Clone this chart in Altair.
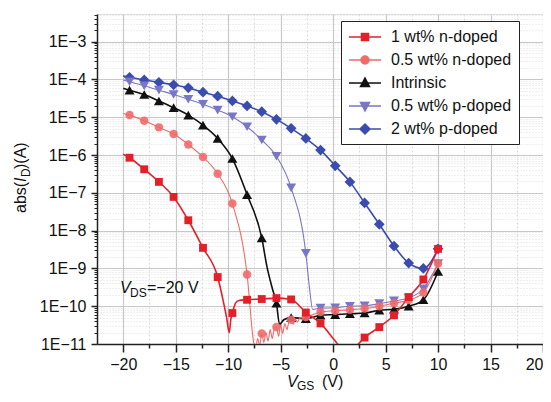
import altair as alt
import pandas as pd

# ---------------- data ----------------
SERIES = ["1 wt% n-doped", "0.5 wt% n-doped", "Intrinsic", "0.5 wt% p-doped", "2 wt% p-doped"]
COLORS = ["#e3202a", "#f06a6a", "#111111", "#7a76c6", "#3a4cae"]
LINE_W = [1.6, 1.1, 1.6, 1.1, 1.6]
SHAPES = ["square", "circle", "triangle-up", "triangle-down", "diamond"]
SIZES = [62, 72, 100, 100, 115]

# marker points (V_GS, |I_D|)
RED_MX = [-19.4, -18.0, -16.6, -15.2, -13.8, -12.4, -11.0, -9.6, -8.2, -6.8, -5.4, -4.0, -2.6, -1.2, 3.0, 4.4, 5.8, 7.2, 8.6, 10.0]
RED_MY = [8.5e-7, 4.2e-7, 1.95e-7, 7.8e-8, 1.88e-8, 3.5e-9, 5.9e-10, 6.6e-11, 1.48e-10, 1.55e-10, 1.64e-10, 1.51e-10, 6.8e-11, 3.5e-11, 1.48e-11, 2.8e-11, 5.75e-11, 1.74e-10, 5.1e-10, 3.3e-9]
RED_EX = [-20.0, -10.5, -10.15, -9.9, -9.75, -9.3, -9.0, 0.2, 0.5, 1.5, 2.4]
RED_EY = [1.05e-6, 1.5e-10, 5.0e-11, 2.0e-11, 4.5e-11, 1.2e-10, 1.42e-10, 1.2e-11, 9.5e-12, 5.0e-12, 1.0e-11]

PNK_MX = [-19.4, -18.0, -16.6, -15.2, -13.8, -12.4, -11.0, -9.6, -8.2, -6.8, -5.4, -4.0, -2.6, -1.2, 0.2, 1.6, 3.0, 4.4, 5.8, 7.2, 8.6, 10.0]
PNK_MY = [1.14e-5, 8.1e-6, 5.4e-6, 3.6e-6, 1.9e-6, 8.9e-7, 3.2e-7, 5.2e-8, 6.9e-10, 1.9e-11, 2.8e-11, 4.4e-11, 5.2e-11, 7.0e-11, 7.6e-11, 8.1e-11, 8.7e-11, 1.0e-10, 1.2e-10, 1.45e-10, 2.3e-10, 1.35e-9]
PNK_EX = [-20.0, -7.55, -7.4, -7.2, -7.0, -6.6, -6.4, -6.2, -6.0, -5.8, -5.6, -5.2, -5.0, -4.8, -4.6, -4.4, -4.2, -3.8, -3.6, -3.4, -3.2]
PNK_EY = [1.26e-5, 1.0e-11, 7.0e-12, 1.4e-11, 9.0e-12, 1.1e-11, 2.0e-11, 1.2e-11, 2.4e-11, 1.4e-11, 2.6e-11, 1.6e-11, 3.2e-11, 1.9e-11, 3.5e-11, 2.4e-11, 4.0e-11, 3.3e-11, 4.6e-11, 3.8e-11, 4.8e-11]

BLK_MX = [-19.4, -18.0, -16.6, -15.2, -13.8, -12.4, -11.0, -9.6, -8.2, -6.8, -5.4, -4.0, -2.6, -1.2, 0.2, 1.6, 3.0, 4.4, 5.8, 7.2, 8.6, 10.0]
BLK_MY = [5.2e-5, 4.0e-5, 2.7e-5, 1.8e-5, 1.14e-5, 6.2e-6, 2.75e-6, 8.1e-7, 9.0e-8, 6.4e-9, 1.2e-10, 5.0e-11, 4.7e-11, 5.75e-11, 6.0e-11, 6.3e-11, 6.6e-11, 7.8e-11, 8.3e-11, 1.0e-10, 1.48e-10, 8.3e-10]
BLK_EX = [-20.0, -6.3, -5.8, -5.1, -4.7]
BLK_EY = [5.8e-5, 1.1e-9, 3.0e-10, 3.3e-11, 4.4e-11]

PUR_MX = [-19.4, -18.0, -16.6, -15.2, -13.8, -12.4, -11.0, -9.6, -8.2, -6.8, -5.4, -4.0, -2.6, -1.2, 0.2, 1.6, 3.0, 4.4, 5.8, 7.2, 8.6, 10.0]
PUR_MY = [8.7e-5, 6.8e-5, 5.2e-5, 4.0e-5, 3.0e-5, 2.2e-5, 1.55e-5, 1.03e-5, 5.6e-6, 2.5e-6, 9.3e-7, 1.35e-7, 2.5e-9, 8.9e-11, 9.1e-11, 1.0e-10, 1.02e-10, 1.17e-10, 1.38e-10, 1.66e-10, 2.9e-10, 1.35e-9]
PUR_EX = [-20.0, -2.25, -1.95]
PUR_EY = [9.7e-5, 3.0e-10, 8.2e-11]

BLU_MX = [-19.4, -18.0, -16.6, -15.2, -13.8, -12.4, -11.0, -9.6, -8.2, -6.8, -5.4, -4.0, -2.6, -1.2, 0.2, 1.6, 3.0, 4.4, 5.8, 7.2, 8.6, 10.0]
BLU_MY = [1.14e-4, 9.7e-5, 8.4e-5, 7.2e-5, 6.0e-5, 4.6e-5, 3.6e-5, 2.7e-5, 2.0e-5, 1.4e-5, 8.8e-6, 5.1e-6, 2.75e-6, 1.35e-6, 5.2e-7, 1.95e-7, 5.4e-8, 1.47e-8, 3.9e-9, 1.39e-9, 1.0e-9, 3.3e-9]
BLU_EX = [-20.0]
BLU_EY = [1.23e-4]

X_MAJOR = [-20, -15, -10, -5, 0, 5, 10, 15, 20]
X_MINOR = [-17.5, -12.5, -7.5, -2.5, 2.5, 7.5, 12.5, 17.5]
Y_MAJOR = [1e-11, 1e-10, 1e-9, 1e-8, 1e-7, 1e-6, 1e-5, 1e-4, 1e-3]
Y_MINOR = [k * 10.0 ** d for d in range(-11, -2) for k in range(2, 10) if k * 10.0 ** d < 5.4e-3]

ANNOT_X = [-20.31]
ANNOT_Y = [2.18e-10]

# legend symbols: a short line with the marker on it (unit = 8 px)
LEGEND_PATHS = [
    "M-1,0H3M0.56,-0.44H1.44V0.44H0.56Z",
    "M-1,0H3M1.5,0A0.5,0.5,0,1,1,0.5,0A0.5,0.5,0,1,1,1.5,0Z",
    "M-1,0H3M1,-0.6L1.56,0.44H0.44Z",
    "M-1,0H3M1,0.6L1.56,-0.44H0.44Z",
    "M-1,0H3M1,-0.62L1.62,0L1,0.62L0.38,0Z",
]

groups = [
    (RED_MX, RED_MY, RED_EX, RED_EY),
    (PNK_MX, PNK_MY, PNK_EX, PNK_EY),
    (BLK_MX, BLK_MY, BLK_EX, BLK_EY),
    (PUR_MX, PUR_MY, PUR_EX, PUR_EY),
    (BLU_MX, BLU_MY, BLU_EX, BLU_EY),
]

line_frames, marker_frames = [], []
for name, (mx, my, ex, ey) in zip(SERIES, groups):
    pts = sorted(zip(list(mx) + list(ex), list(my) + list(ey)))
    line_frames.append(pd.DataFrame({"vgs": [p[0] for p in pts], "id": [p[1] for p in pts], "series": name}))
    marker_frames.append(pd.DataFrame({"vgs": mx, "id": my, "series": name}))
markers_df = pd.concat(marker_frames, ignore_index=True)

W, H = 446, 330
FONT = "Liberation Sans"
XS = alt.Scale(domain=[-22.5, 20], nice=False, zero=False)
YS = alt.Scale(type="log", domain=[1e-11, 5.4e-3], nice=False)

major_x = alt.Axis(values=X_MAJOR, orient="bottom", title=None, grid=True, gridColor="#c8c8c8",
                   gridWidth=1.2, tickSize=8, tickWidth=1.5, tickColor="#222", domainColor="#222",
                   domainWidth=1.5, labelFontSize=16, labelFont=FONT, labelColor="#111",
                   labelPadding=4, labelFlush=True)
major_y = alt.Axis(values=Y_MAJOR, orient="left", title=None, grid=True, gridColor="#c8c8c8",
                   gridWidth=1.2, tickSize=6, tickWidth=1.5, tickColor="#222", domainColor="#222",
                   domainWidth=1.5, labelFontSize=16, labelFont=FONT, labelColor="#111",
                   labelPadding=5, labelFlush=False,
                   labelExpr="'1E' + format(round(log(datum.value)/LN10), 'd')")
minor_x = alt.Axis(values=X_MINOR, orient="bottom", title=None, grid=True, gridColor="#d8d8d8",
                   gridDash=[2, 2], gridWidth=1, tickSize=4, tickWidth=1.5, tickColor="#222",
                   labels=False, domain=False)
minor_y = alt.Axis(values=Y_MINOR, orient="left", title=None, grid=True, gridColor="#dedede",
                   gridDash=[1, 2], gridWidth=1, tickSize=3, tickWidth=1, tickColor="#222",
                   labels=False, domain=False)

layers = []
draw_order = [4, 3, 2, 1, 0]  # blue first, red last (on top)
for n, i in enumerate(draw_order):
    layers.append(alt.Chart(line_frames[i]).mark_line(
        clip=True, interpolate="monotone", color=COLORS[i], strokeWidth=LINE_W[i]
    ).encode(
        x=alt.X("vgs:Q", scale=XS, axis=major_x if n == 0 else None),
        y=alt.Y("id:Q", scale=YS, axis=major_y if n == 0 else None),
    ))
for n, i in enumerate(draw_order):
    layers.append(alt.Chart(marker_frames[i]).mark_point(
        filled=True, shape=SHAPES[i], size=SIZES[i], color=COLORS[i],
        opacity=0.9 if i == 1 else 1, clip=True
    ).encode(
        x=alt.X("vgs:Q", scale=XS, axis=minor_x if n == 0 else None),
        y=alt.Y("id:Q", scale=YS, axis=minor_y if n == 0 else None),
    ))

LEG = alt.Legend(title=None, orient="none", legendX=244, legendY=7, symbolSize=256,
                 labelFontSize=16, labelFont=FONT, labelColor="#111", labelOffset=25,
                 rowPadding=6, padding=7, strokeColor="#222", fillColor="white",
                 symbolStrokeWidth=1.5, symbolOpacity=1,
                 labelExpr="datum.label + '\u00a0\u00a0\u00a0\u00a0'")
# invisible layer that only carries the legend (line + marker symbols)
legend_layer = alt.Chart(markers_df).mark_point(
    filled=True, opacity=0, strokeWidth=1.5, clip=True
).encode(
    x=alt.X("vgs:Q", scale=XS, axis=None),
    y=alt.Y("id:Q", scale=YS, axis=None),
    fill=alt.Fill("series:N", scale=alt.Scale(domain=SERIES, range=COLORS), legend=LEG),
    stroke=alt.Stroke("series:N", scale=alt.Scale(domain=SERIES, range=COLORS), legend=LEG),
    shape=alt.Shape("series:N", scale=alt.Scale(domain=SERIES, range=LEGEND_PATHS), legend=LEG),
)
layers.append(legend_layer)

# in-plot annotation V_DS = -20 V (anchored in data coordinates)
ann_df = pd.DataFrame({"vgs": ANNOT_X, "id": ANNOT_Y})
def ann(text, dx, dy, size, style="normal"):
    return alt.Chart(ann_df).mark_text(
        text=text, dx=dx, dy=dy, fontSize=size, fontStyle=style, font=FONT, color="#111",
        align="left", baseline="alphabetic"
    ).encode(x=alt.X("vgs:Q", scale=XS, axis=None), y=alt.Y("id:Q", scale=YS, axis=None))
layers += [ann("V", 0, 0, 16, "italic"), ann("DS", 10, 4, 12), ann("=\u221220 V", 27, 0, 16)]

# axis titles with italic symbol and subscript
def title_piece(text, px, py, dx, dy, size, style="normal", angle=0):
    return alt.Chart(pd.DataFrame({"a": [0]})).mark_text(
        text=text, dx=dx, dy=dy, fontSize=size, fontStyle=style, font=FONT, color="#111",
        align="left", baseline="alphabetic", angle=angle
    ).encode(x=alt.value(px), y=alt.value(py))

layers += [
    title_piece("V", 190, 373, 0, 0, 16, "italic"),
    title_piece("GS", 190, 373, 10, 3, 12),
    title_piece("(V)", 190, 373, 35, 0, 16),
    title_piece("abs(", -71, 199, 0, 0, 16, angle=270),
    title_piece("I", -71, 199, 31, 0, 16, "italic", angle=270),
    title_piece("D", -71, 199, 36, 4, 12, angle=270),
    title_piece(")(A)", -71, 199, 44, 0, 16, angle=270),
]

chart = alt.layer(*layers).resolve_axis(x="independent", y="independent").properties(
    width=W, height=H,
    autosize=alt.AutoSizeParams(type="none"),
    padding={"left": 89, "top": 6, "right": 0, "bottom": 50},
).configure_view(stroke="#222", strokeWidth=1.5).configure(background="white")

chart.save("out.html", embed_options={"renderer": "svg", "actions": False})
